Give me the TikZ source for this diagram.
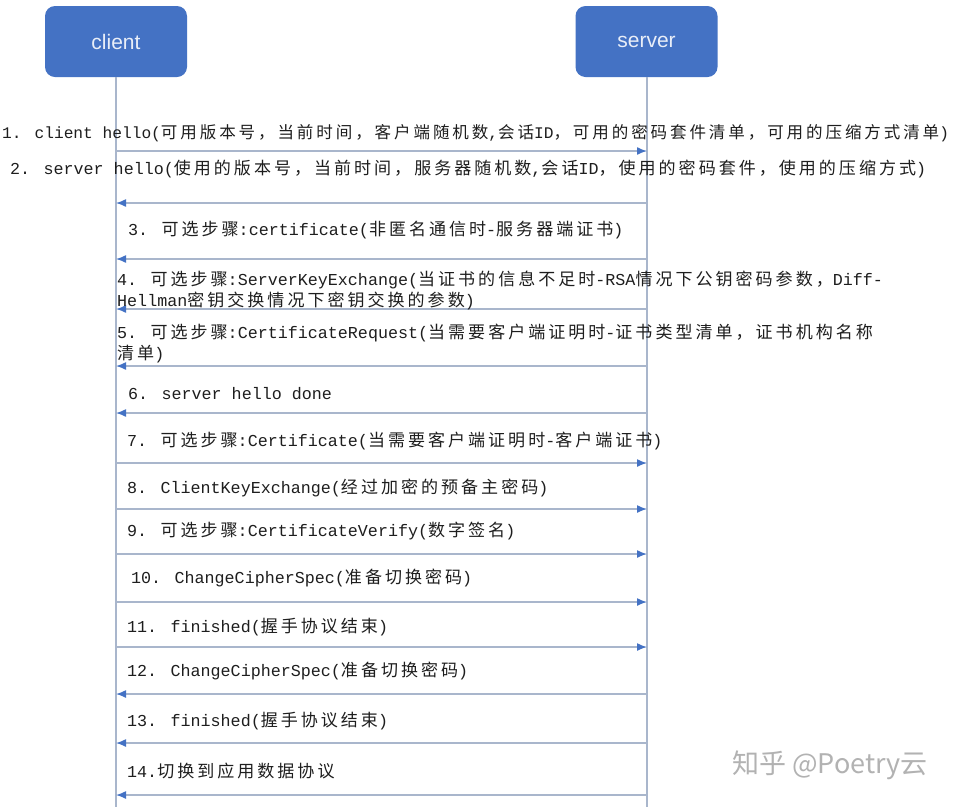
\documentclass[tikz,border=0pt]{standalone}
\usepackage{fontspec}
\setmainfont{Liberation Mono}
\newfontfamily\cjkfont[Scale=1.02,LetterSpace=17.6]{Noto Sans CJK SC}
\newfontfamily\boxfont{Liberation Sans}
\newfontfamily\wmfont{Noto Sans CJK SC}
\usetikzlibrary{arrows.meta}
\definecolor{boxblue}{HTML}{4472C4}
\definecolor{lifecol}{HTML}{A9B6CC}
\definecolor{tipblue}{HTML}{4472C4}
\definecolor{txtcol}{HTML}{1E1E1E}
\newcommand{\zh}[1]{{\cjkfont #1}}
\tikzset{
  actor/.style={draw=none, fill=boxblue, rounded corners=10pt, minimum width=142pt, minimum height=71pt, inner sep=0pt, font=\boxfont\fontsize{21}{24}\selectfont, text=white!88!boxblue},
  life/.style={draw=lifecol, line width=1.2pt},
  msgline/.style={draw=lifecol, line width=1.4pt, -{Latex[length=10pt,width=8pt,color=tipblue]}},
  msg/.style={anchor=west, inner sep=0pt, text=txtcol, font=\fontsize{16.7}{21}\selectfont, align=left},
}
\begin{document}
\begin{tikzpicture}[x=1pt,y=-1pt]
\useasboundingbox (0,0) rectangle (967,807);
\fill[white] (0,0) rectangle (967,807);
% actors
\node[actor] (client) at (116,41.5) {client};
\node[actor] (server) at (646.5,41.5) {server};
\coordinate (cend) at (116,807);
\coordinate (send) at (647,807);
\draw[life] (client.south) -- (cend);
\draw[life] (server.south -| send) -- (send);
% message coordinates
\foreach \i/\y in {1/151,2/203,3/259,4/309,5/366,6/413,7/463,8/509,9/554,10/602,11/647,12/694,13/743,14/795}{
  \coordinate (c\i) at (116,\y);
  \coordinate (s\i) at (647,\y);
}
% arrows
\foreach \i in {1,7,8,9,10,11}{ \draw[msgline] (c\i) -- (s\i); }
\foreach \i in {2,3,4,5,6,12,13,14}{ \draw[msgline] (s\i) -- (c\i); }
% labels
\node[msg, font=\fontsize{16.2}{21}\selectfont] (t1) at (2,133) {1. client hello(\zh{可用版本号，当前时间，客户端随机数},\zh{会话}ID\zh{，可用的密码套件清单，可用的压缩方式清单})};
\node[msg] (t2) at (10,169) {2. server hello(\zh{使用的版本号，当前时间，服务器随机数},\zh{会话}ID\zh{，使用的密码套件，使用的压缩方式})};
\node[msg] (t3) at (128,230) {3. \zh{可选步骤}:certificate(\zh{非匿名通信时}-\zh{服务器端证书})};
\node[msg] (t4) at (117,290.5) {4. \zh{可选步骤}:ServerKeyExchange(\zh{当证书的信息不足时}-RSA\zh{情况下公钥密码参数，}Diff-\\Hellman\zh{密钥交换情况下密钥交换的参数})};
\node[msg] (t5) at (117,343.5) {5. \zh{可选步骤}:CertificateRequest(\zh{当需要客户端证明时}-\zh{证书类型清单，证书机构名称}\\\zh{清单})};
\node[msg] (t6) at (128,394) {6. server hello done};
\node[msg] (t7) at (127,441) {7. \zh{可选步骤}:Certificate(\zh{当需要客户端证明时}-\zh{客户端证书})};
\node[msg] (t8) at (127,488) {8. ClientKeyExchange(\zh{经过加密的预备主密码})};
\node[msg] (t9) at (127,531) {9. \zh{可选步骤}:CertificateVerify(\zh{数字签名})};
\node[msg] (t10) at (131,578) {10. ChangeCipherSpec(\zh{准备切换密码})};
\node[msg] (t11) at (127,627) {11. finished(\zh{握手协议结束})};
\node[msg] (t12) at (127,671) {12. ChangeCipherSpec(\zh{准备切换密码})};
\node[msg] (t13) at (127,721) {13. finished(\zh{握手协议结束})};
\node[msg] (t14) at (127,771) {14.\zh{切换到应用数据协议}};
% watermark
\node[anchor=west, inner sep=0pt, text=black!30, font=\wmfont\fontsize{27}{30}\selectfont] (wm) at (732,765) {知乎 @Poetry云};
\end{tikzpicture}
\end{document}
